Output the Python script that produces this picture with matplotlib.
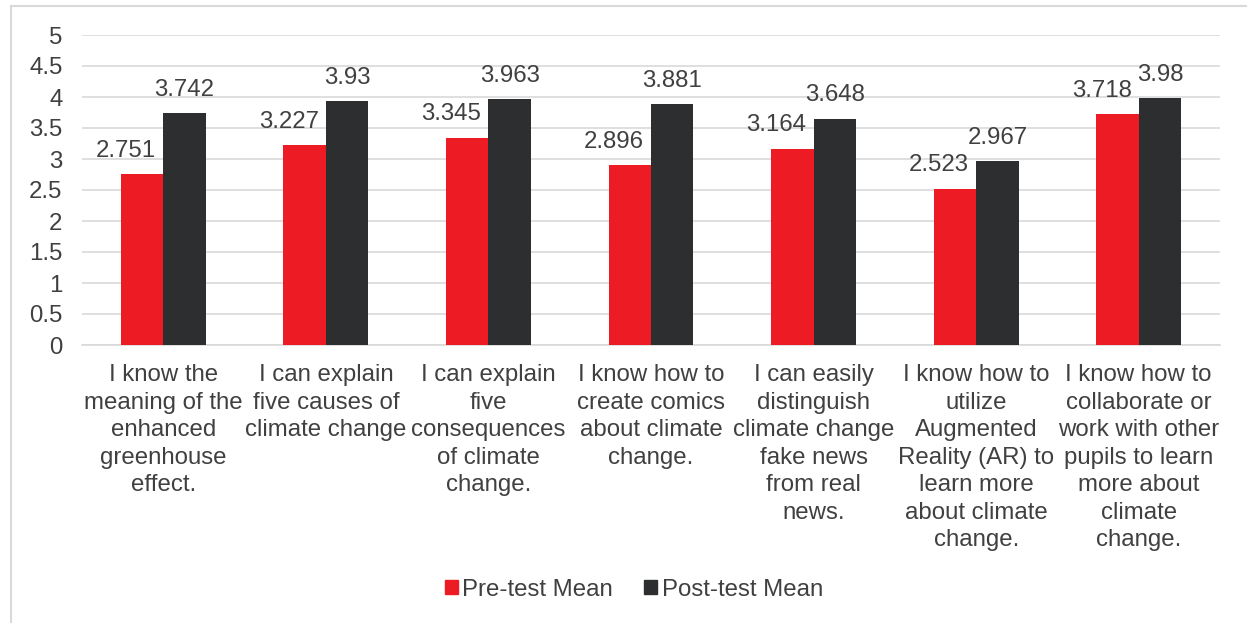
import numpy as np
import matplotlib
matplotlib.use("Agg")
import matplotlib.pyplot as plt
from matplotlib.patches import Patch
from matplotlib.lines import Line2D

plt.rcParams['font.family'] = ['Liberation Sans', 'DejaVu Sans']

categories = [
    "I know the\nmeaning of the\nenhanced\ngreenhouse\neffect.",
    "I can explain\nfive causes of\nclimate change",
    "I can explain\nfive\nconsequences\nof climate\nchange.",
    "I know how to\ncreate comics\nabout climate\nchange.",
    "I can easily\ndistinguish\nclimate change\nfake news\nfrom real\nnews.",
    "I know how to\nutilize\nAugmented\nReality (AR) to\nlearn more\nabout climate\nchange.",
    "I know how to\ncollaborate or\nwork with other\npupils to learn\nmore about\nclimate\nchange.",
]
pre_mean = [2.751, 3.227, 3.345, 2.896, 3.164, 2.523, 3.718]
post_mean = [3.742, 3.93, 3.963, 3.881, 3.648, 2.967, 3.98]
yticks = [0, 0.5, 1, 1.5, 2, 2.5, 3, 3.5, 4, 4.5, 5]

red = '#ED1C24'
dark = '#2D2E30'
txt = '#404040'
grid = '#D9D9D9'
fs = 17.3

fig = plt.figure(figsize=(12.47, 6.23), dpi=100)
ax = fig.add_axes([82/1247, 1-345/623, (1220-82)/1247, (345-35)/623])

x = np.arange(len(categories))
w = 0.261
ax.bar(x - w/2, pre_mean, w, color=red, zorder=3)
ax.bar(x + w/2, post_mean, w, color=dark, zorder=3)

# value labels: red ones pushed left so they don't collide with the dark bar
for i, v in enumerate(pre_mean):
    ax.annotate(f"{v:g}", (x[i], v), xytext=(-5, 12.5), textcoords='offset points',
                ha='right', va='baseline', fontsize=fs, color=txt)
for i, v in enumerate(post_mean):
    ax.annotate(f"{v:g}", (x[i] + w/2, v), xytext=(0, 12.5), textcoords='offset points',
                ha='center', va='baseline', fontsize=fs, color=txt)

ax.set_xlim(-0.5, len(categories) - 0.5)
ax.set_ylim(0, 5)
ax.set_yticks(yticks)
ax.set_yticklabels([f"{t:g}" for t in yticks])
ax.set_xticks(x)
ax.set_xticklabels(categories, linespacing=1.32)
ax.tick_params(axis='y', length=0, pad=14, labelsize=fs, labelcolor=txt)
ax.tick_params(axis='x', length=0, pad=14, labelsize=fs, labelcolor=txt)

ax.grid(axis='y', color=grid, linewidth=1.2, zorder=0)
for s in ['top', 'right', 'left']:
    ax.spines[s].set_visible(False)
ax.spines['bottom'].set_color(grid)
ax.spines['bottom'].set_linewidth(1.2)

handles = [Patch(color=red, label='Pre-test Mean'), Patch(color=dark, label='Post-test Mean')]
fig.legend(handles=handles, loc='center', bbox_to_anchor=(634/1247, 1-590/623), ncol=2,
           frameon=False, fontsize=fs, labelcolor=txt, handlelength=0.52, handleheight=0.52,
           handletextpad=0.2, columnspacing=1.3)

# chart frame (only top and left edges are visible in the crop)
fig.add_artist(Line2D([11/1247, 11/1247], [0, 1-6/623], color=grid, lw=1.5, transform=fig.transFigure))
fig.add_artist(Line2D([11/1247, 1], [1-6/623, 1-6/623], color=grid, lw=1.5, transform=fig.transFigure))

fig.savefig('out.png', dpi=100)
